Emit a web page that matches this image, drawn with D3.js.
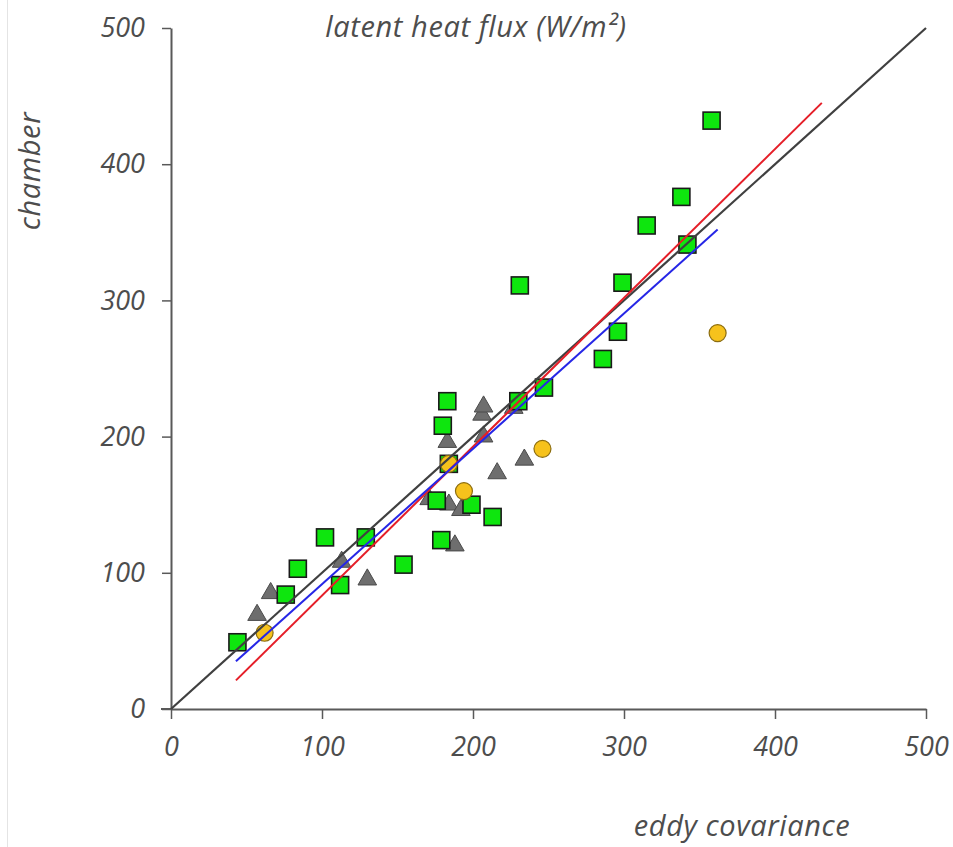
<!DOCTYPE html>
<html>
<head>
<meta charset="utf-8">
<script src="https://cdn.jsdelivr.net/npm/d3@7"></script>
<style>
  body { margin: 0; background: #fff; }
  text { font-family: "Open Sans", sans-serif; font-style: italic; fill: #4d4d4d; }
</style>
</head>
<body>
<div id="chart"></div>
<script>
// tick values
var xTicks = [0, 100, 200, 300, 400, 500];
var yTicks = [0, 100, 200, 300, 400, 500];

// green squares [eddy covariance, chamber]
var squares = [
  [44, 49], [76, 84], [84, 103], [102, 126], [112, 91], [129, 126],
  [154, 106], [176, 153], [179, 124], [180, 208], [183, 226], [184, 180],
  [199, 150], [213, 141], [230, 226], [247, 236], [231, 311], [286, 257],
  [296, 277], [299, 313], [315, 355], [338, 376], [342, 341], [358, 432]
];

// grey triangles
var triangles = [
  [57, 69], [66, 85], [113, 108], [130, 95], [171, 154], [184, 150],
  [192, 146], [188, 120], [183, 196], [206, 216], [207, 222], [207, 200],
  [216, 173], [227, 221], [234, 183]
];

// yellow circles
var circles = [
  [62, 56], [184, 180], [194, 160], [246, 191], [362, 276]
];

// fitted lines (end points)
var oneToOne = [[0, 0], [500, 500]];
var redFit = [[43, 21], [431, 445]];
var blueFit = [[43, 35], [362, 352]];

var width = 953, height = 847;
var margin = {top: 28, right: 27, bottom: 138, left: 171};

var svg = d3.select('#chart').append('svg')
    .attr('width', width).attr('height', height);

// faint frame line on the left
svg.append('line')
    .attr('x1', 7.5).attr('x2', 7.5).attr('y1', 0).attr('y2', height)
    .attr('stroke', '#e4e4e4').attr('stroke-width', 1);

var x = d3.scaleLinear().domain([0, 500]).range([margin.left, width - margin.right]);
var y = d3.scaleLinear().domain([0, 500]).range([height - margin.bottom, margin.top]);

var xAxis = d3.axisBottom(x).tickValues(xTicks).tickSize(10).tickSizeOuter(0).tickPadding(18);
var yAxis = d3.axisLeft(y).tickValues(yTicks).tickSize(9).tickSizeOuter(0).tickPadding(17);

var gx = svg.append('g')
    .attr('transform', 'translate(0,' + y(0) + ')')
    .call(xAxis);
var gy = svg.append('g')
    .attr('transform', 'translate(' + x(0) + ',0)')
    .call(yAxis);

[gx, gy].forEach(function(g) {
  g.select('.domain').attr('stroke', '#595959').attr('stroke-width', 2);
  g.selectAll('.tick line').attr('stroke', '#595959').attr('stroke-width', 1.5);
  g.selectAll('.tick text')
      .style('font-family', '"Open Sans", sans-serif')
      .style('font-style', 'italic')
      .style('font-size', '27px')
      .attr('fill', '#4d4d4d');
});
gx.selectAll('.tick text').attr('dy', '0.71em');

// x-axis line extends slightly left past the y axis
svg.append('line')
    .attr('x1', x(0) - 10).attr('x2', x(0))
    .attr('y1', y(0)).attr('y2', y(0))
    .attr('stroke', '#595959').attr('stroke-width', 2);

var pts = svg.append('g');

var tri = d3.symbol().type(d3.symbolTriangle).size(150);
pts.selectAll('path.tri')
    .data(triangles)
    .enter().append('path')
    .attr('class', 'tri')
    .attr('d', tri)
    .attr('transform', function(d) { return 'translate(' + x(d[0]) + ',' + y(d[1]) + ')'; })
    .attr('fill', '#6e6e6e')
    .attr('stroke', '#4a4a4a')
    .attr('stroke-width', 1);

var sq = 17;
pts.selectAll('rect')
    .data(squares)
    .enter().append('rect')
    .attr('x', function(d) { return x(d[0]) - sq / 2; })
    .attr('y', function(d) { return y(d[1]) - sq / 2; })
    .attr('width', sq).attr('height', sq)
    .attr('fill', '#0ee60e')
    .attr('stroke', '#1a1a1a')
    .attr('stroke-width', 1.6);

pts.selectAll('circle')
    .data(circles)
    .enter().append('circle')
    .attr('cx', function(d) { return x(d[0]); })
    .attr('cy', function(d) { return y(d[1]); })
    .attr('r', 8.5)
    .attr('fill', '#f6c21c')
    .attr('stroke', '#8c6d10')
    .attr('stroke-width', 1.2);

var line = d3.line().x(function(d) { return x(d[0]); }).y(function(d) { return y(d[1]); });

svg.append('path').datum(oneToOne).attr('d', line)
    .attr('fill', 'none').attr('stroke', '#404040').attr('stroke-width', 2.2);
svg.append('path').datum(redFit).attr('d', line)
    .attr('fill', 'none').attr('stroke', '#e51e28').attr('stroke-width', 2);
svg.append('path').datum(blueFit).attr('d', line)
    .attr('fill', 'none').attr('stroke', '#2626e6').attr('stroke-width', 2);

// titles
svg.append('text')
    .attr('x', 476).attr('y', 37)
    .attr('text-anchor', 'middle')
    .style('font-size', '29px')
    .style('letter-spacing', '0.6px')
    .text('latent heat flux (W/m²)');

svg.append('text')
    .attr('x', 742).attr('y', 836)
    .attr('text-anchor', 'middle')
    .style('font-size', '29px')
    .style('letter-spacing', '0.6px')
    .text('eddy covariance');

svg.append('text')
    .attr('transform', 'translate(40,171) rotate(-90)')
    .attr('text-anchor', 'middle')
    .style('font-size', '29px')
    .style('letter-spacing', '0.6px')
    .text('chamber');
</script>
</body>
</html>
